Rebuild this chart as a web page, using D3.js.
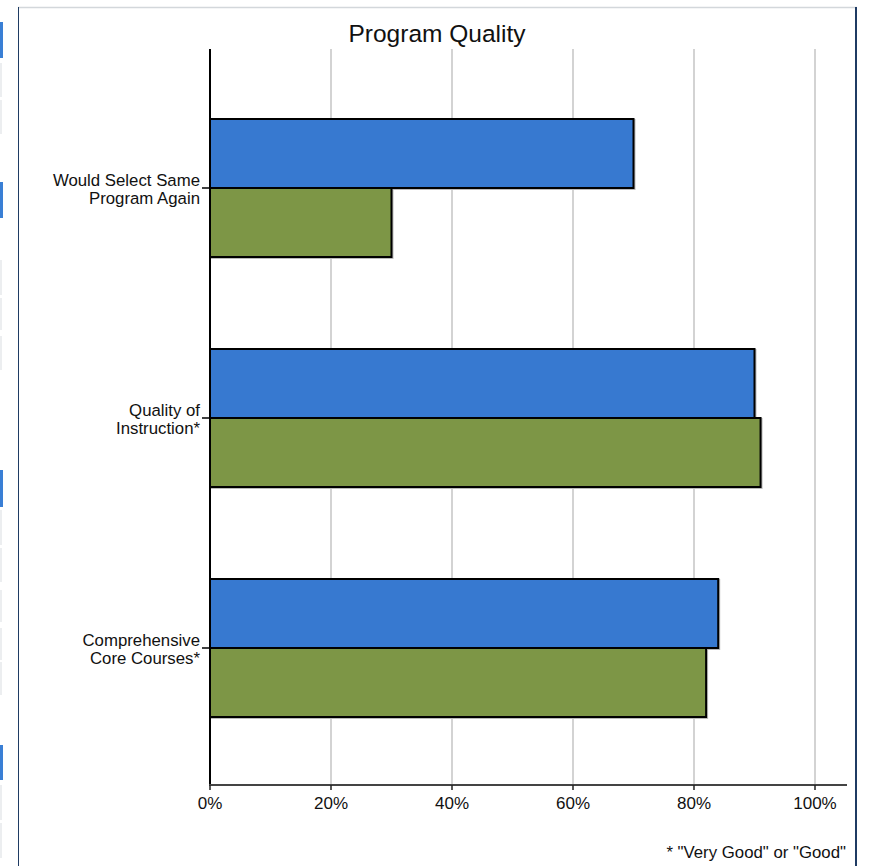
<!DOCTYPE html>
<html>
<head>
  <meta charset="utf-8">
  <script src="https://d3js.org/d3.v7.min.js"></script>
  <style>
    body { margin: 0; background: #fff; font-family: "Liberation Sans", Arial, sans-serif; }
    svg text { font-family: "Liberation Sans", Arial, sans-serif; fill: #111; }
  </style>
</head>
<body>
<script>
  // chart data
  var categories = ["Would Select Same\nProgram Again", "Quality of\nInstruction*", "Comprehensive\nCore Courses*"];
  var seriesNames = ["A", "B"];
  var seriesA = [70, 90, 84];
  var seriesB = [30, 91, 82];
  var xTicks = [0, 20, 40, 60, 80, 100];
  var colors = ["#3779d0", "#7d9646"];

  var width = 869, height = 866;
  var svg = d3.select("body").append("svg")
    .attr("width", width).attr("height", height);

  // page frame + side strip
  svg.append("line").attr("x1", 18).attr("x2", 857).attr("y1", 7.5).attr("y2", 7.5)
    .attr("stroke", "#d3d7db").attr("stroke-width", 1.5);
  svg.append("line").attr("x1", 18.5).attr("x2", 18.5).attr("y1", 7).attr("y2", height)
    .attr("stroke", "#1f3b63").attr("stroke-width", 1);
  svg.append("line").attr("x1", 856).attr("x2", 856).attr("y1", 7).attr("y2", height)
    .attr("stroke", "#1f3b63").attr("stroke-width", 2);
  [[22, 58], [182, 218], [470, 507], [745, 780]].forEach(function (s) {
    svg.append("rect").attr("x", 0).attr("y", s[0]).attr("width", 3).attr("height", s[1] - s[0])
      .attr("fill", "#3a7fd5");
  });
  [[63, 97], [100, 134], [260, 295], [298, 330], [336, 370], [510, 545], [548, 582], [590, 622], [628, 660], [662, 695], [785, 820], [823, 858]].forEach(function (s) {
    svg.append("rect").attr("x", 0).attr("y", s[0]).attr("width", 2).attr("height", s[1] - s[0])
      .attr("fill", "#eceef0");
  });

  var x = d3.scaleLinear().domain([0, 100]).range([210, 815]);
  var y = d3.scaleBand().domain(categories).range([73, 763])
    .paddingInner(0.4).paddingOuter(0.2);
  var ySub = d3.scaleBand().domain(seriesNames).range([0, y.bandwidth()]);

  var plotTop = 49, plotBottom = 785;

  // title
  svg.append("text").attr("x", 437).attr("y", 42)
    .attr("text-anchor", "middle").style("font-size", "24.5px")
    .text("Program Quality");

  // gridlines
  svg.selectAll(".grid").data(xTicks.slice(1)).enter().append("line")
    .attr("x1", function (d) { return x(d); }).attr("x2", function (d) { return x(d); })
    .attr("y1", plotTop).attr("y2", plotBottom)
    .attr("stroke", "#c4c4c4").attr("stroke-width", 1.5);

  // bars
  var rows = categories.map(function (c, i) {
    return [{ cat: c, s: "A", v: seriesA[i] }, { cat: c, s: "B", v: seriesB[i] }];
  });
  var g = svg.selectAll(".cat").data(rows).enter().append("g")
    .attr("transform", function (d) { return "translate(0," + y(d[0].cat) + ")"; });
  // faint shadow
  g.selectAll(".shadow").data(function (d) { return d; }).enter().append("rect")
    .attr("x", x(0) + 1).attr("y", function (d) { return ySub(d.s) + 1; })
    .attr("width", function (d) { return x(d.v) - x(0); })
    .attr("height", ySub.bandwidth())
    .attr("fill", "none").attr("stroke", "#bbb").attr("stroke-width", 2);
  g.selectAll(".bar").data(function (d) { return d; }).enter().append("rect")
    .attr("x", x(0)).attr("y", function (d) { return ySub(d.s); })
    .attr("width", function (d) { return x(d.v) - x(0); })
    .attr("height", ySub.bandwidth())
    .attr("fill", function (d, i) { return colors[i]; })
    .attr("stroke", "#000").attr("stroke-width", 2);

  // y axis
  svg.append("line").attr("x1", 210).attr("x2", 210).attr("y1", plotTop).attr("y2", plotBottom)
    .attr("stroke", "#000").attr("stroke-width", 2);
  categories.forEach(function (c) {
    var cy = y(c) + y.bandwidth() / 2;
    svg.append("line").attr("x1", 202).attr("x2", 210).attr("y1", cy).attr("y2", cy)
      .attr("stroke", "#000").attr("stroke-width", 1.5);
    var lines = c.split("\n");
    var t = svg.append("text").attr("text-anchor", "end").style("font-size", "16.8px");
    lines.forEach(function (l, i) {
      t.append("tspan").attr("x", 200).attr("y", cy - 2 + i * 18).text(l);
    });
  });

  // x axis
  svg.append("line").attr("x1", 209).attr("x2", 847).attr("y1", plotBottom).attr("y2", plotBottom)
    .attr("stroke", "#444").attr("stroke-width", 2);
  svg.selectAll(".xt").data(xTicks).enter().append("line")
    .attr("x1", function (d) { return x(d); }).attr("x2", function (d) { return x(d); })
    .attr("y1", plotBottom).attr("y2", plotBottom + 5)
    .attr("stroke", "#222").attr("stroke-width", 1.5);
  svg.selectAll(".xl").data(xTicks).enter().append("text")
    .attr("x", function (d) { return x(d); }).attr("y", 809)
    .attr("text-anchor", "middle").style("font-size", "17px")
    .text(function (d) { return d + "%"; });

  // footnote
  svg.append("text").attr("x", 846).attr("y", 858)
    .attr("text-anchor", "end").style("font-size", "16.8px")
    .text("* \"Very Good\" or \"Good\"");
</script>
</body>
</html>
